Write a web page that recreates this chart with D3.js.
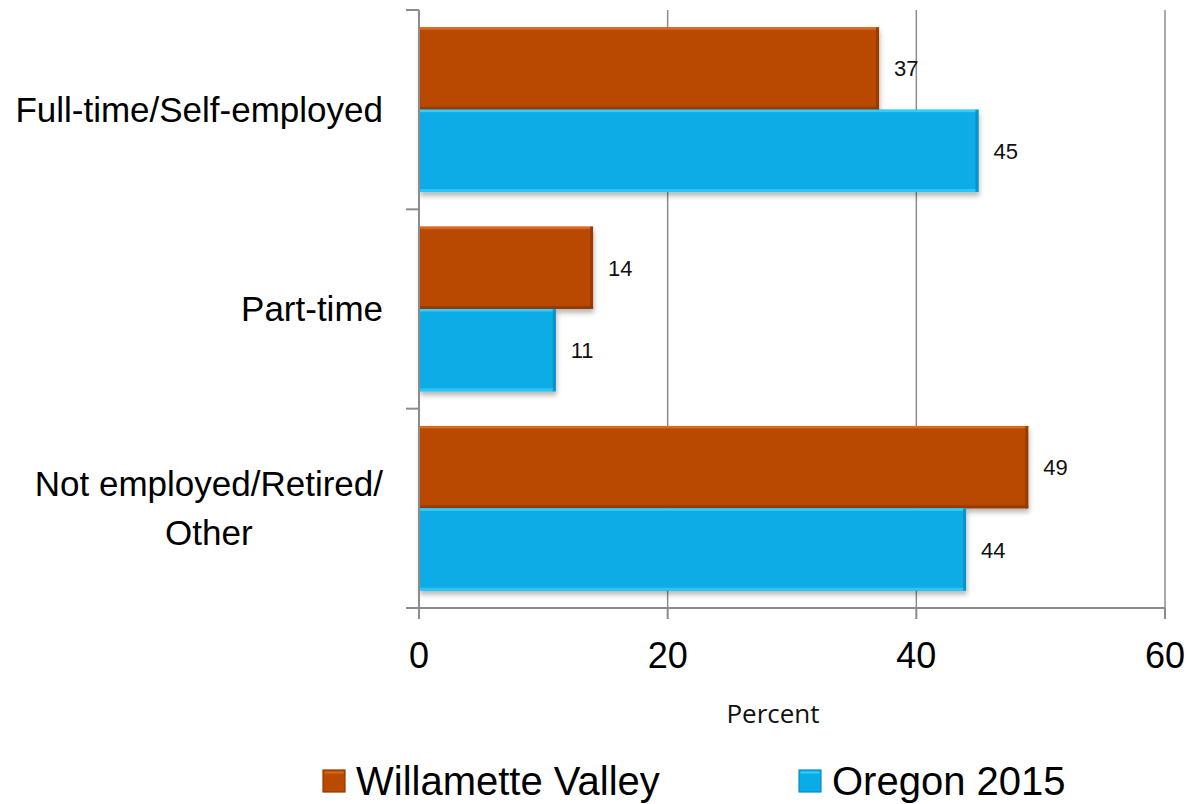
<!DOCTYPE html>
<html>
<head>
<meta charset="utf-8">
<script src="https://cdn.jsdelivr.net/npm/d3@7"></script>
<style>
  html, body { margin: 0; padding: 0; background: #fff; }
  svg { display: block; }
</style>
</head>
<body>
<svg id="chart" width="1189" height="804"></svg>
<script>
// Employment status, percent of respondents
const categories = ["Full-time/Self-employed", "Part-time", "Not employed/Retired/\nOther"];
const seriesNames = ["Willamette Valley", "Oregon 2015"];
const willametteValley = [37, 14, 49];
const oregon2015 = [45, 11, 44];
const xTicks = [0, 20, 40, 60];
const axisTitle = "Percent";

const seriesValues = [willametteValley, oregon2015];
const palette = [
  { fill: "#BA4A00", light: "#D8691E", dark: "#8F3900" },
  { fill: "#09ACE6", light: "#35CCFA", dark: "#0A8DBE" }
];
const sans = "'Liberation Sans', Arial, Helvetica, sans-serif";

const svg = d3.select("#chart");
const plot = { left: 419, right: 1165, top: 10, bottom: 608 };

const x = d3.scaleLinear().domain([0, 60]).range([plot.left, plot.right]);
const y = d3.scaleBand().domain(categories).range([plot.top, plot.bottom]).padding(0);
const ySeries = d3.scaleBand().domain(d3.range(seriesNames.length))
  .range([0, y.bandwidth()]).paddingInner(0).paddingOuter(0.21);

const defs = svg.append("defs");
const shadow = defs.append("filter").attr("id", "barShadow")
  .attr("x", "-5%").attr("y", "-20%").attr("width", "115%").attr("height", "150%");
shadow.append("feDropShadow").attr("dx", 1).attr("dy", 4).attr("stdDeviation", 2.5)
  .attr("flood-color", "#000").attr("flood-opacity", 0.28);

const axisColor = "#8c8c8c";

// vertical gridlines
svg.append("g").selectAll("line").data(xTicks.filter(t => t > 0)).join("line")
  .attr("x1", d => x(d)).attr("x2", d => x(d))
  .attr("y1", plot.top).attr("y2", plot.bottom)
  .attr("stroke", axisColor).attr("stroke-width", 1.5);

// bars
const rows = [];
categories.forEach((c, i) => seriesValues.forEach((vals, s) => rows.push({ cat: c, s, v: vals[i] })));

const barG = svg.append("g").selectAll("g").data(rows).join("g")
  .attr("transform", d => `translate(0,${y(d.cat) + ySeries(d.s)})`);

const bh = ySeries.bandwidth();
barG.append("rect")
  .attr("x", x(0)).attr("y", 0)
  .attr("width", d => x(d.v) - x(0)).attr("height", bh)
  .attr("fill", d => palette[d.s].fill)
  .attr("filter", "url(#barShadow)");
// bevel edges
barG.append("rect").attr("x", x(0)).attr("y", 0)
  .attr("width", d => x(d.v) - x(0)).attr("height", 2.5)
  .attr("fill", d => palette[d.s].light);
barG.append("rect").attr("x", x(0)).attr("y", bh - 3)
  .attr("width", d => x(d.v) - x(0)).attr("height", 3)
  .attr("fill", d => d.s === 1 ? palette[d.s].light : palette[d.s].dark).attr("opacity", 0.8);
barG.append("rect").attr("x", d => x(d.v) - 3).attr("y", 0)
  .attr("width", 3).attr("height", bh)
  .attr("fill", d => palette[d.s].dark).attr("opacity", 0.85);

// value labels
barG.append("text")
  .attr("x", d => x(d.v) + 15).attr("y", bh / 2 + 8)
  .attr("font-family", sans).attr("font-size", 22)
  .attr("fill", "#111")
  .text(d => d.v);

// axes lines and ticks
const axes = svg.append("g").attr("stroke", axisColor).attr("stroke-width", 2);
axes.append("line").attr("x1", plot.left).attr("x2", plot.left)
  .attr("y1", plot.top).attr("y2", plot.bottom + 11);
axes.append("line").attr("x1", plot.left - 13).attr("x2", plot.right)
  .attr("y1", plot.bottom).attr("y2", plot.bottom);
const yEdges = categories.map(c => y(c)).concat([plot.bottom]);
axes.selectAll(".yt").data(yEdges).join("line")
  .attr("x1", plot.left - 13).attr("x2", plot.left).attr("y1", d => d).attr("y2", d => d);
axes.selectAll(".xt").data(xTicks).join("line")
  .attr("x1", d => x(d)).attr("x2", d => x(d)).attr("y1", plot.bottom).attr("y2", plot.bottom + 11);

// x tick labels
svg.append("g").selectAll("text").data(xTicks).join("text")
  .attr("x", d => x(d)).attr("y", 668)
  .attr("text-anchor", "middle")
  .attr("font-family", sans).attr("font-size", 36)
  .attr("fill", "#000")
  .text(d => d);

svg.append("text").attr("x", 773).attr("y", 723)
  .attr("text-anchor", "middle")
  .attr("font-family", "'Open Sans', sans-serif").attr("font-size", 26)
  .attr("fill", "#111")
  .text(axisTitle);

// category labels, right-aligned block with centred lines
const catG = svg.append("g");
categories.forEach(c => {
  const lines = c.split("\n");
  const cy = y(c) + y.bandwidth() / 2;
  const lh = 49;
  const t = catG.append("text")
    .attr("font-family", sans).attr("font-size", 35)
    .attr("fill", "#000");
  const spans = lines.map((ln, i) => t.append("tspan").text(ln)
    .attr("y", cy + 12 - (lines.length - 1) * lh / 2 + i * lh));
  const widths = spans.map(s => s.node().getComputedTextLength());
  const maxW = d3.max(widths);
  const right = 383;
  spans.forEach(s => s.attr("x", right - maxW / 2).attr("text-anchor", "middle"));
});

// legend
const legendItems = [
  { name: seriesNames[0], s: 0, x: 323 },
  { name: seriesNames[1], s: 1, x: 799 }
];
const lg = svg.append("g").selectAll("g").data(legendItems).join("g")
  .attr("transform", d => `translate(${d.x},770)`);
lg.append("rect").attr("width", 22).attr("height", 22)
  .attr("fill", d => palette[d.s].fill)
  .attr("stroke", d => palette[d.s].dark).attr("stroke-width", 1.2);
lg.append("rect").attr("x", 1.5).attr("y", 1.5).attr("width", 19).attr("height", 2)
  .attr("fill", d => palette[d.s].light);
lg.append("text").attr("x", 33).attr("y", 25)
  .attr("font-family", sans).attr("font-size", 40)
  .attr("fill", "#000")
  .text(d => d.name);
</script>
</body>
</html>
